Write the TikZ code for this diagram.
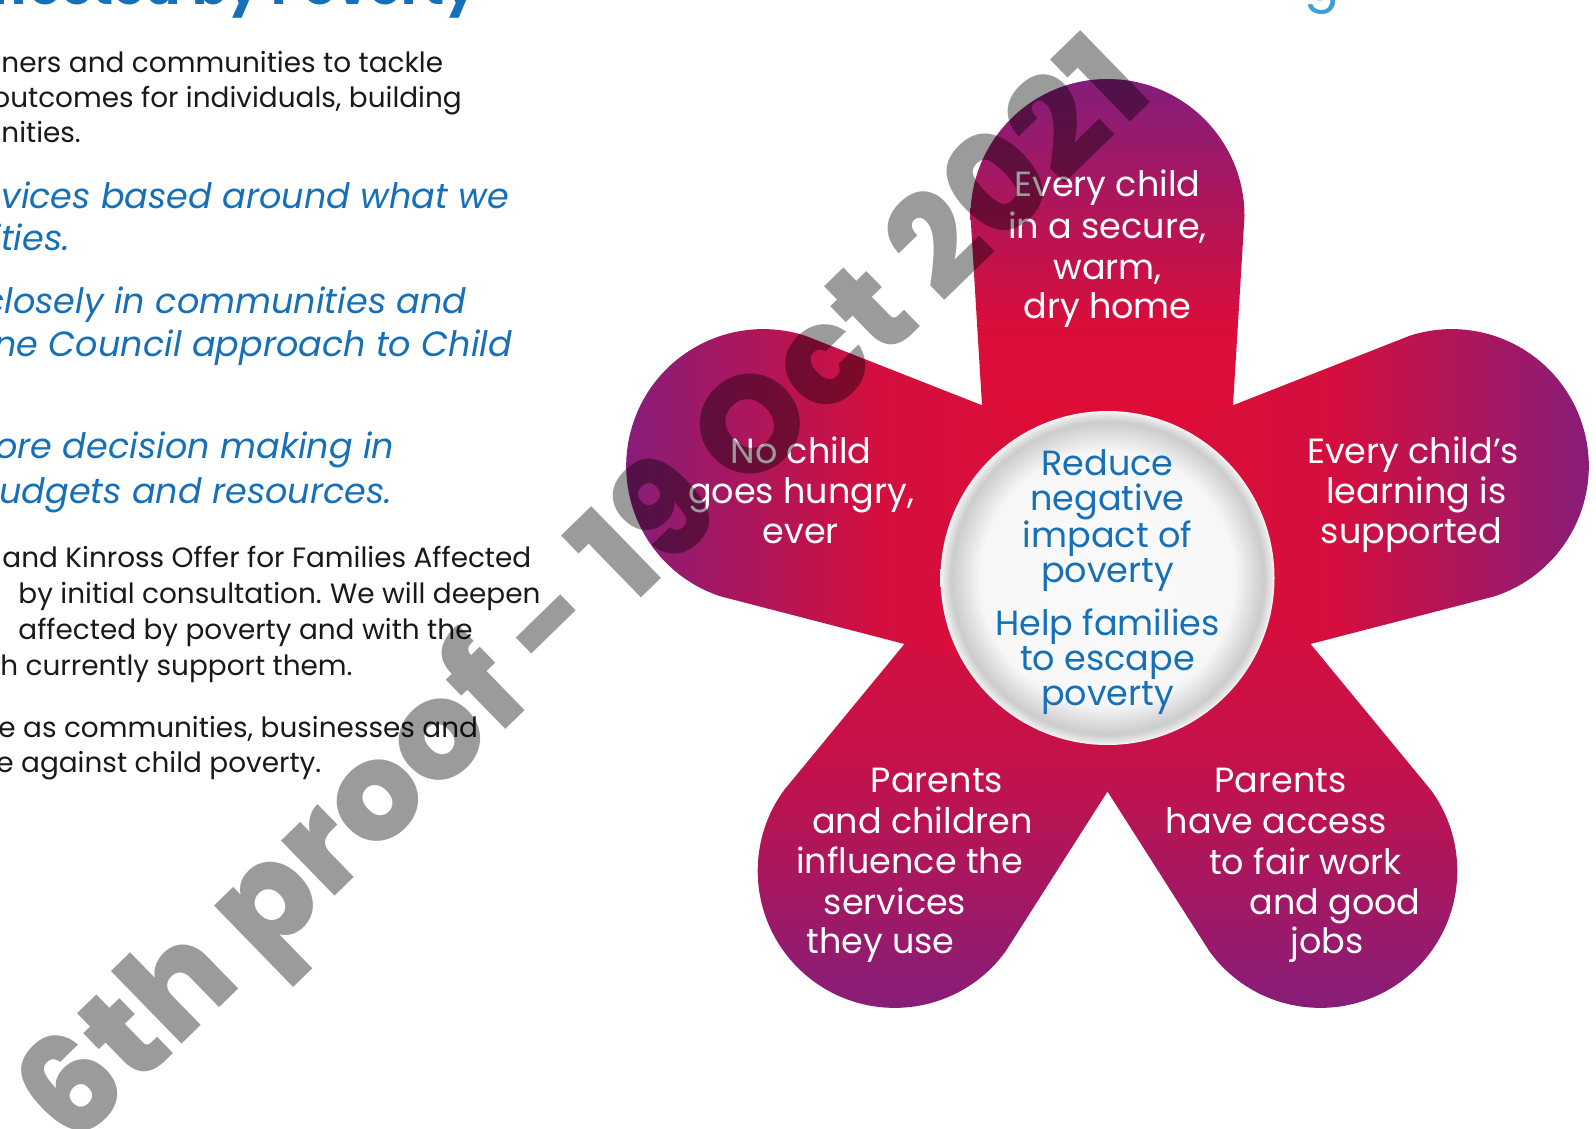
\documentclass[tikz,border=0pt]{standalone}
\usepackage{fontspec}
\setmainfont{Poppins}
\IfFontExistsTF{Poppins ExtraBold}{\newfontfamily\wmfont{Poppins ExtraBold}\def\wmbold{}}{\newfontfamily\wmfont{Poppins}\def\wmbold{\bfseries}}
\usetikzlibrary{calc}
\definecolor{pur}{RGB}{130,30,124}
\definecolor{rd}{RGB}{226,12,52}
\definecolor{cblue}{RGB}{22,112,183}
\definecolor{wmgray}{RGB}{155,155,155}
\definecolor{ink}{RGB}{25,25,25}
\definecolor{lblue}{RGB}{60,160,215}
\pgfdeclareradialshading{button}{\pgfpoint{0bp}{0bp}}{color(0bp)=(white!98!black); color(19bp)=(white!97!black); color(23.4bp)=(white!80!black); color(24.5bp)=(white!90!black); color(25bp)=(white!97!black); color(50bp)=(white)}
\begin{document}
\begin{tikzpicture}[x=0.5pt,y=-0.5pt,
  petaltext/.style={text=white, font=\fontsize{17.5}{20}\selectfont, anchor=base, inner sep=0pt},
  hubtext/.style={text=cblue, font=\fontsize{17.5}{20}\selectfont, anchor=base, inner sep=0pt},
  bodytext/.style={text=ink, font=\fontsize{13.95}{17}\selectfont, anchor=base west, inner sep=0pt},
  bluetext/.style={text=cblue, font=\fontsize{17.5}{21}\selectfont\itshape, anchor=base west, inner sep=0pt},
  petalshade/.style={top color=pur, bottom color=rd, middle color=#1}
]
\useasboundingbox (0,0) rectangle (1596,1129);
\clip (0,0) rectangle (1596,1129);
\fill[white] (0,0) rectangle (1596,1129);
\coordinate (C) at (1107.5,578);
% petals: angle / shading angle / middle colour
\foreach \a/\s/\m in {-90/0/rd!92!pur, -18/-90/rd!85!pur, 54/180/rd!68!pur, 126/180/rd!68!pur, 198/90/rd!85!pur}{
  \shade[petalshade=\m, shading angle=\s] ($(C)+(\a+90:115)$) -- ($(C)+(\a:362)+(\a+90:137)$)
    arc[start angle=\a+90, end angle=\a-90, radius=137] -- ($(C)+(\a-90:115)$) -- cycle;
}
% hub
\shade[shading=button] (C) circle[radius=167];
% hub text
\node[hubtext] (h1) at (1107.5,475) {Reduce};
\node[hubtext] (h2) at (1107.5,510) {negative};
\node[hubtext] (h3) at (1107.5,547) {impact of};
\node[hubtext] (h4) at (1107.5,582) {poverty};
\node[hubtext] (h5) at (1107.5,635) {Help families};
\node[hubtext] (h6) at (1107.5,670) {to escape};
\node[hubtext] (h7) at (1107.5,705) {poverty};
% petal texts
\node[petaltext] (t1) at (1107.5,197) {Every child};
\node[petaltext] (t2) at (1107.5,238) {in a secure,};
\node[petaltext] (t3) at (1107.5,279) {warm,};
\node[petaltext] (t4) at (1107.5,318) {dry home};
\node[petaltext] (l1) at (801,463) {No child};
\node[petaltext] (l2) at (801,503) {goes hungry,};
\node[petaltext] (l3) at (801,543) {ever};
\node[petaltext] (r1) at (1413,463) {Every child’s};
\node[petaltext] (r2) at (1416.5,503) {learning is};
\node[petaltext] (r3) at (1411.5,543) {supported};
\node[petaltext] (bl1) at (937,792) {Parents};
\node[petaltext] (bl2) at (922.5,833) {and children};
\node[petaltext] (bl3) at (909.5,873) {influence the};
\node[petaltext] (bl4) at (895,914) {services};
\node[petaltext] (bl5) at (880.5,953) {they use};
\node[petaltext] (br1) at (1280.5,792) {Parents};
\node[petaltext] (br2) at (1276.5,833) {have access};
\node[petaltext] (br3) at (1305.5,874) {to fair work};
\node[petaltext] (br4) at (1335,914) {and good};
\node[petaltext] (br5) at (1327,953) {jobs};
% left column text
\node[text=cblue, font=\fontsize{26}{30}\selectfont\bfseries, anchor=base east, inner sep=0pt] (title) at (478,5) {Affected by Poverty};
\node[text=lblue, font=\fontsize{26}{30}\selectfont, anchor=base, inner sep=0pt] (frag) at (1322,1) {g};
\node[bodytext] (p1) at (1,73) {ners and communities to tackle};
\node[bodytext] (p2) at (-8,108) {outcomes for individuals, building};
\node[bodytext] (p3) at (1,142) {nities.};
\node[bluetext] (q1) at (1,208) {vices based around what we};
\node[bluetext] (q2) at (-8,250) {ities.};
\node[bluetext] (q3) at (-17,313) {closely in communities and};
\node[bluetext] (q4) at (-6,356) {ne Council approach to Child};
\node[bluetext] (q5) at (-5,458) {ore decision making in};
\node[bluetext] (q6) at (-1,503) {udgets and resources.};
\node[bodytext] (s1) at (2,567) {and Kinross Offer for Families Affected};
\node[bodytext] (s2) at (18,603) {by initial consultation.\hspace{0.3em}We will deepen};
\node[bodytext] (s3) at (18,639) {affected by poverty and with the};
\node[bodytext] (s4) at (0,675) {h currently support them.};
\node[bodytext] (s5) at (-2,737) {e as communities, businesses and};
\node[bodytext] (s6) at (-4,772) {e against child poverty.};
% watermark
\begin{scope}[blend mode=multiply]
\node[text=wmgray, font=\wmfont\wmbold\fontsize{68.5}{72}\selectfont, rotate=44.2, inner sep=0pt] (wm) at (590,598) {6th proof - 19 Oct 2021};
\end{scope}
\end{tikzpicture}
\end{document}
